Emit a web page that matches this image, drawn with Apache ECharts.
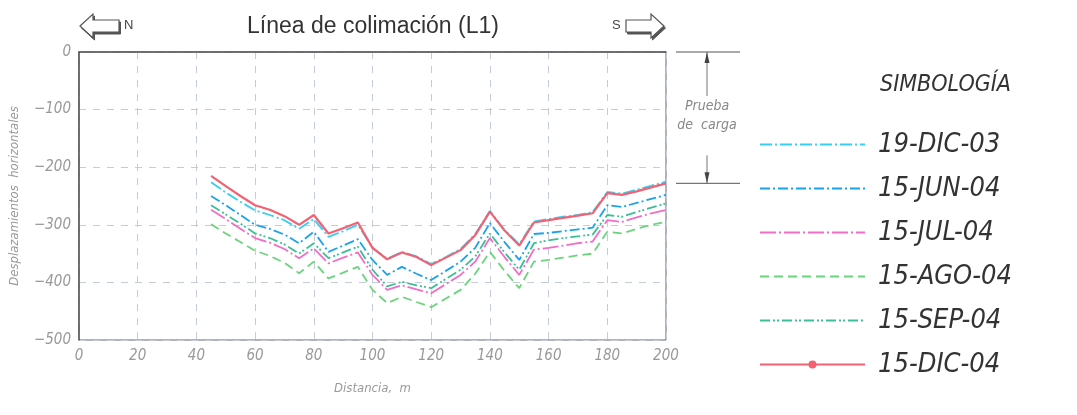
<!DOCTYPE html>
<html>
<head>
<meta charset="utf-8">
<script src="https://cdn.jsdelivr.net/npm/echarts@6/dist/echarts.min.js"></script>
<style>
  html, body { margin: 0; padding: 0; background: #ffffff; }
  #chart { width: 1077px; height: 415px; }
</style>
</head>
<body>
<div id="chart"></div>
<script>
// Horizontal displacement readings along the collimation line (L1)
const distances = [45, 50, 55, 60, 65, 70, 75, 80, 85, 90, 95, 100, 105, 110, 115, 120,
                   125, 130, 135, 140, 145, 150, 155, 160, 165, 170, 175, 180, 185, 190, 195, 200];

const dic03 = [-226, -244, -260, -275, -283, -292, -307, -290, -321, -311, -300, -340, -359, -347, -355, -368,
               -356, -342, -316, -276, -309, -334, -294, -290, -286, -283, -278, -243, -246, -239, -232, -225];
const jun04 = [-250, -266, -283, -300, -307, -317, -332, -312, -347, -336, -325, -361, -387, -373, -385, -396,
               -380, -364, -340, -297, -330, -361, -316, -314, -311, -308, -305, -266, -269, -262, -255, -248];
const jul04 = [-274, -290, -307, -323, -331, -342, -358, -341, -367, -357, -348, -387, -413, -405, -412, -419,
               -403, -387, -364, -323, -356, -387, -343, -340, -336, -332, -329, -292, -295, -287, -280, -274];
const ago04 = [-299, -315, -330, -345, -354, -366, -384, -364, -393, -383, -373, -413, -436, -425, -434, -443,
               -428, -413, -385, -347, -380, -410, -364, -361, -357, -353, -350, -312, -315, -307, -300, -295];
const sep04 = [-266, -282, -298, -315, -323, -334, -350, -332, -358, -348, -338, -378, -407, -399, -405, -410,
               -394, -378, -355, -315, -348, -378, -332, -327, -323, -320, -317, -283, -286, -278, -270, -263];
const dic04 = [-215, -233, -250, -266, -274, -285, -300, -283, -315, -306, -296, -340, -360, -348, -356, -370,
               -357, -344, -318, -277, -310, -336, -296, -292, -288, -284, -280, -245, -248, -242, -235, -228];

const seriesNames = ['19-DIC-03', '15-JUN-04', '15-JUL-04', '15-AGO-04', '15-SEP-04', '15-DIC-04'];
const xTicks = [0, 20, 40, 60, 80, 100, 120, 140, 160, 180, 200];
const yTicks = [0, -100, -200, -300, -400, -500];

const pair = (ys) => distances.map((d, i) => [d, ys[i]]);

const narrow = '"Liberation Sans Narrow", "DejaVu Sans Condensed", "Liberation Sans", sans-serif';

const chart = echarts.init(document.getElementById('chart'));

function lineSeries(name, ys, color, dash, extra) {
  return Object.assign({
    name: name,
    type: 'line',
    data: pair(ys),
    symbol: 'none',
    smooth: false,
    lineStyle: { color: color, width: 1.8, type: dash },
    itemStyle: { color: color },
    z: 3
  }, extra || {});
}

// Only the 15-DIC-04 key carries a marker; the others show just their line pattern
const legendData = seriesNames.map(n => n === '15-DIC-04'
  ? { name: n }
  : { name: n, itemStyle: { opacity: 0 } });

chart.setOption({
  animation: false,
  backgroundColor: '#ffffff',
  title: [
    {
      text: 'Línea de colimación (L1)',
      left: 368, top: 10, textAlign: 'center',
      textStyle: { fontFamily: '"Liberation Sans", Arial, sans-serif', fontSize: 23, fontWeight: 'normal', color: '#333' }
    },
    {
      text: 'SIMBOLOGÍA',
      left: 875, top: 69,
      textStyle: { fontFamily: narrow, fontSize: 23, fontStyle: 'italic', fontWeight: 'normal', color: '#333' }
    }
  ],
  grid: { left: 77, top: 52, right: 411, bottom: 75, show: true, borderColor: '#666', borderWidth: 1 },
  xAxis: {
    type: 'value', min: 0, max: 200, interval: 20,
    name: 'Distancia,  m', nameLocation: 'middle', nameGap: 42,
    nameTextStyle: { fontFamily: narrow, fontStyle: 'italic', fontSize: 13, color: '#999' },
    axisLine: { show: true, lineStyle: { color: '#555', width: 1.5 } },
    axisTick: { show: false },
    axisLabel: { fontFamily: narrow, fontStyle: 'italic', fontSize: 15, color: '#999', margin: 9,
                 customValues: xTicks },
    splitLine: { show: true, lineStyle: { color: '#c3cbdc', type: [7, 7], width: 1 } }
  },
  yAxis: {
    type: 'value', min: -500, max: 0, interval: 100,
    name: 'Desplazamientos  horizontales', nameLocation: 'middle', nameGap: 58, nameRotate: 90,
    nameTextStyle: { fontFamily: narrow, fontStyle: 'italic', fontSize: 13, color: '#999' },
    axisLine: { show: true, lineStyle: { color: '#555', width: 1.5 } },
    axisTick: { show: false },
    axisLabel: {
      fontFamily: narrow, fontStyle: 'italic', fontSize: 15, color: '#999', margin: 8,
      customValues: yTicks,
      formatter: (v) => v === 0 ? '0' : '\u2212' + Math.abs(v)
    },
    splitLine: { show: true, lineStyle: { color: '#c3cbdc', type: [7, 7], width: 1 } }
  },
  legend: {
    orient: 'vertical', left: 754, top: 124,
    itemWidth: 105, itemHeight: 10, itemGap: 13,
    data: legendData,
    textStyle: { fontFamily: narrow, fontStyle: 'italic', fontSize: 27, color: '#333',
                 lineHeight: 31, padding: [0, 0, 0, 8] }
  },
  series: [
    lineSeries('19-DIC-03', dic03, '#38d0f2', [12, 3, 2, 3]),
    lineSeries('15-JUN-04', jun04, '#1aa3ec', [10, 3, 2, 3]),
    lineSeries('15-JUL-04', jul04, '#f06ec6', [16, 3, 2, 3]),
    lineSeries('15-AGO-04', ago04, '#6cd47c', [9, 5]),
    lineSeries('15-SEP-04', sep04, '#3cbf94', [10, 3, 2, 2, 2, 3]),
    lineSeries('15-DIC-04', dic04, '#f26272', 'solid', {
      symbol: 'circle', symbolSize: 5, showSymbol: false, z: 4,
      lineStyle: { color: '#f26272', width: 2.2, type: 'solid' }
    })
  ]
});

// Hollow direction arrows beside the title
function arrowPoints(tipX, baseX, cy) {
  const dir = Math.sign(baseX - tipX);
  const neck = tipX + dir * 13;
  return [[tipX, cy], [neck, cy - 12], [neck, cy - 6], [baseX, cy - 6],
          [baseX, cy + 6], [neck, cy + 6], [neck, cy + 12]];
}
function arrow(tipX, baseX, cy) {
  const pts = arrowPoints(tipX, baseX, cy);
  return [
    { type: 'polygon', shape: { points: pts.map(p => [p[0] + 1.5, p[1] + 2]) },
      style: { fill: '#555', stroke: '#555', lineWidth: 1 } },
    { type: 'polygon', shape: { points: pts },
      style: { fill: '#fff', stroke: '#555', lineWidth: 1.2 } }
  ];
}

// Bracket marking the load-test span, from 0 down to the last 15-DIC-04 value
const yTop = chart.convertToPixel({ gridIndex: 0 }, [200, 0])[1];
const yBot = chart.convertToPixel({ gridIndex: 0 }, [200, dic04[dic04.length - 1]])[1];
const bx = 707;
const mid = (yTop + yBot) / 2;
const grey = '#777';

chart.setOption({
  graphic: [
    ...arrow(80, 119, 26),
    { type: 'text', left: 124, top: 19, style: { text: 'N', fontFamily: '"Liberation Sans", sans-serif', fontSize: 13, fill: '#444' } },
    { type: 'text', left: 612, top: 19, style: { text: 'S', fontFamily: '"Liberation Sans", sans-serif', fontSize: 13, fill: '#444' } },
    ...arrow(664, 626, 26),
    { type: 'line', shape: { x1: 676, y1: yTop, x2: 740, y2: yTop }, style: { stroke: '#555', lineWidth: 1 } },
    { type: 'line', shape: { x1: 676, y1: yBot, x2: 740, y2: yBot }, style: { stroke: '#555', lineWidth: 1 } },
    { type: 'line', shape: { x1: bx, y1: yTop, x2: bx, y2: yTop + 44 }, style: { stroke: grey, lineWidth: 1 } },
    { type: 'polygon', shape: { points: [[bx, yTop], [bx - 2.5, yTop + 11], [bx + 2.5, yTop + 11]] }, style: { fill: '#444' } },
    { type: 'line', shape: { x1: bx, y1: yBot - 28, x2: bx, y2: yBot }, style: { stroke: grey, lineWidth: 1 } },
    { type: 'polygon', shape: { points: [[bx, yBot], [bx - 2.5, yBot - 11], [bx + 2.5, yBot - 11]] }, style: { fill: '#444' } },
    { type: 'text', x: bx, y: mid - 18, style: { text: 'Prueba', textAlign: 'center', fontFamily: narrow, fontStyle: 'italic', fontSize: 14, fill: '#888' } },
    { type: 'text', x: bx, y: mid + 1, style: { text: 'de  carga', textAlign: 'center', fontFamily: narrow, fontStyle: 'italic', fontSize: 14, fill: '#888' } }
  ]
});
</script>
</body>
</html>
